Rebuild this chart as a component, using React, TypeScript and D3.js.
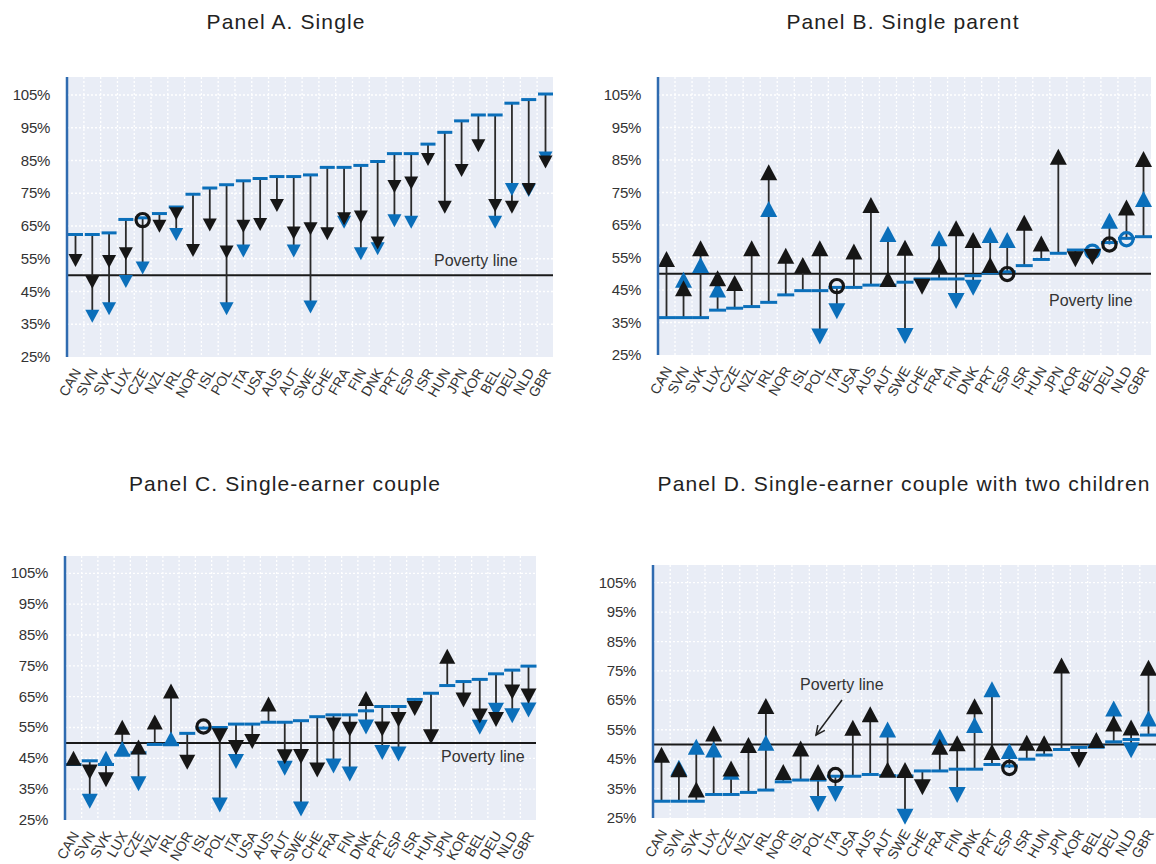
import React from "react";
import * as d3 from "d3";

const countries = ["CAN","SVN","SVK","LUX","CZE","NZL","IRL","NOR","ISL","POL","ITA","USA","AUS","AUT","SWE","CHE","FRA","FIN","DNK","PRT","ESP","ISR","HUN","JPN","KOR","BEL","DEU","NLD","GBR"];
const yTicks = [25, 35, 45, 55, 65, 75, 85, 95, 105];
const povertyLine = 50;

type V = number | null;
const _ = null;

// Panel A. Single
const dashA: number[] = [62.4,62.4,62.9,67.0,67.5,68.8,70.8,74.7,76.6,77.6,78.8,79.5,80.1,80.1,80.6,82.9,82.9,83.5,84.7,87.1,87.1,90.0,93.6,97.1,98.9,98.9,102.5,103.6,105.3];
const blackA: V[] = [55.1,48.5,54.8,57.2,66.8,65.6,69.4,58.2,66.0,57.7,65.6,66.1,71.9,63.5,64.8,63.3,67.9,68.4,60.5,77.7,78.8,86.0,71.4,82.6,90.2,71.9,71.4,76.8,85.2];
const blueA: V[] = [_,38.1,40.4,48.7,52.8,_,63.1,_,_,40.4,58.0,_,_,58.0,40.9,_,66.8,57.2,58.7,67.3,66.8,_,_,_,_,66.8,76.8,76.5,86.4];

// Panel B. Single parent
const dashB: number[] = [36.5,36.5,36.5,38.8,39.4,39.9,41.2,43.5,44.8,44.8,45.8,45.8,46.5,46.5,47.4,48.4,48.4,48.4,49.4,50.2,50.6,52.5,54.4,56.3,57.3,57.3,59.6,60.9,61.4];
const blackB: V[] = [53.7,44.7,57.0,47.8,46.3,57.0,80.4,54.7,51.9,57.0,46.2,56.0,70.3,47.6,57.2,46.8,51.9,63.2,59.6,51.9,49.9,64.9,58.5,85.2,55.3,56.0,59.0,69.6,84.5];
const blueB: V[] = [_,47.3,51.9,44.3,_,_,69.1,_,_,31.5,39.3,_,_,61.4,31.7,_,60.1,42.4,46.5,61.1,59.6,_,_,_,_,56.8,65.5,60.6,72.2];

// Panel C. Single-earner couple
const dashC: number[] = [43.0,44.2,43.0,46.0,46.8,49.5,49.5,53.1,54.8,55.0,56.1,56.1,56.7,56.7,57.2,58.5,59.1,59.1,60.4,61.8,61.8,64.1,66.1,68.6,69.9,70.6,72.4,73.6,74.9];
const blackC: V[] = [44.2,41.4,38.9,54.3,47.9,56.0,66.0,44.5,55.3,53.1,49.3,51.3,61.8,46.3,46.4,42.0,56.6,55.2,63.6,55.3,58.4,62.0,52.8,77.3,64.7,59.5,58.4,67.3,66.0];
const blueC: V[] = [_,31.9,44.2,47.4,37.6,_,50.5,_,_,30.7,44.8,_,_,42.6,29.4,_,43.3,40.7,56.0,47.7,47.2,_,_,_,_,55.9,61.4,59.6,61.5];

// Panel D. Single-earner couple with two children
const dashD: number[] = [30.7,30.7,30.7,33.0,33.0,33.7,34.5,37.3,37.9,37.9,39.2,39.2,39.8,39.4,39.3,41.0,41.0,41.6,41.6,43.2,42.7,45.0,46.4,48.3,49.0,49.4,50.9,51.7,53.2];
const blackD: V[] = [45.6,40.7,33.8,52.8,40.9,48.9,62.2,39.7,47.7,39.7,39.6,54.8,59.4,40.5,40.4,36.4,48.3,49.5,62.1,46.5,42.0,49.7,49.5,75.9,45.6,50.6,56.2,54.9,75.2];
const blueD: V[] = [_,41.2,48.3,47.4,39.8,_,49.7,_,_,30.7,34.1,_,_,54.2,26.3,_,51.7,33.7,55.7,67.9,46.9,_,_,_,_,50.4,61.3,48.9,57.9];

const BLUE = "#0b6fba";
const BLACK = "#161616";
const STEM = "#2a2a2a";
const BG = "#e9edf6";
const AXIS = "#2f6bb0";
const FONT = "'Liberation Sans', Arial, Helvetica, sans-serif";

interface PanelCfg {
  title: string;
  dash: number[];
  black: V[];
  blue: V[];
  left: number; right: number; top: number; bottom: number;
  y25: number; y105: number;
  titleX: number; titleY: number;
  triW: number; triH: number; dashW: number;
  label: { x: number; y: number };
  arrow?: { x1: number; y1: number; x2: number; y2: number };
}

const panels: PanelCfg[] = [
  { title: "Panel A. Single", dash: dashA, black: blackA, blue: blueA,
    left: 67, right: 553, top: 77, bottom: 357, y25: 357, y105: 95, titleX: 286, titleY: 29,
    triW: 14, triH: 13, dashW: 15, label: { x: 434, y: 266 } },
  { title: "Panel B. Single parent", dash: dashB, black: blackB, blue: blueB,
    left: 658, right: 1151, top: 77, bottom: 355, y25: 355, y105: 95, titleX: 903, titleY: 29,
    triW: 17, triH: 16, dashW: 17, label: { x: 1049, y: 306 } },
  { title: "Panel C. Single-earner couple", dash: dashC, black: blackC, blue: blueC,
    left: 65, right: 536, top: 556, bottom: 820, y25: 820, y105: 573.3, titleX: 285, titleY: 491,
    triW: 16, triH: 15, dashW: 16, label: { x: 441, y: 762 } },
  { title: "Panel D. Single-earner couple with two children", dash: dashD, black: blackD, blue: blueD,
    left: 653, right: 1156, top: 565, bottom: 818, y25: 818, y105: 582.7, titleX: 904, titleY: 491,
    triW: 17, triH: 16, dashW: 17, label: { x: 800, y: 690 },
    arrow: { x1: 842, y1: 700, x2: 816, y2: 735 } },
];

const THRESH = 0.75;

function triPath(cx: number, cy: number, w: number, h: number, up: boolean): string {
  const pts: [number, number][] = up
    ? [[cx, cy - (2 * h) / 3], [cx + w / 2, cy + h / 3], [cx - w / 2, cy + h / 3]]
    : [[cx, cy + (2 * h) / 3], [cx + w / 2, cy - h / 3], [cx - w / 2, cy - h / 3]];
  return (d3.line()(pts) || "") + "Z";
}

function Marker({ v, base, cx, y, color, cfg }: { v: V; base: number; cx: number; y: d3.ScaleLinear<number, number>; color: string; cfg: PanelCfg }) {
  if (v === null) return null;
  const diff = v - base;
  if (Math.abs(diff) <= THRESH) {
    return <circle cx={cx} cy={y(v)} r={6.6} fill="none" stroke={color} strokeWidth={3.2} />;
  }
  return <path d={triPath(cx, y(v), cfg.triW, cfg.triH, diff > 0)} fill={color} />;
}

function Panel({ cfg }: { cfg: PanelCfg }) {
  const x = d3.scalePoint<string>().domain(countries).range([cfg.left + 8.5, cfg.right - 7.5]);
  const y = d3.scaleLinear().domain([25, 105]).range([cfg.y25, cfg.y105]);
  const step = x.step();
  const midX = countries.slice(1).map((c) => (x(c) as number) - step / 2);
  return (
    <g>
      <text x={cfg.titleX} y={cfg.titleY} textAnchor="middle" fontSize={21} fill="#222" fontFamily={FONT} letterSpacing={1.1}>{cfg.title}</text>
      <rect x={cfg.left} y={cfg.top} width={cfg.right - cfg.left} height={cfg.bottom - cfg.top} fill={BG} />
      {midX.map((mx, i) => (
        <line key={"vx" + i} x1={mx} x2={mx} y1={cfg.top} y2={cfg.bottom} stroke="#fff" strokeWidth={1.3} strokeDasharray="2,2" />
      ))}
      {yTicks.filter((t) => t > 25).map((t) => (
        <line key={"hy" + t} x1={cfg.left} x2={cfg.right} y1={y(t)} y2={y(t)} stroke="#fff" strokeWidth={1.3} strokeDasharray="2,2" />
      ))}
      {yTicks.map((t) => (
        <text key={"yt" + t} x={cfg.left - 17} y={y(t) + 5} textAnchor="end" fontSize={15} fill="#333" fontFamily={FONT} letterSpacing={-0.3}>{t}%</text>
      ))}
      {countries.map((c) => (
        <text key={"xl" + c} transform={`translate(${(x(c) as number) + 6},${cfg.bottom + 15}) rotate(-60)`} textAnchor="end" fontSize={14} fill="#333" fontFamily={FONT}>{c}</text>
      ))}
      <line x1={cfg.left} x2={cfg.right} y1={y(povertyLine)} y2={y(povertyLine)} stroke="#1a1a1a" strokeWidth={2} />
      {countries.map((c, i) => {
        const vals = [cfg.dash[i], cfg.black[i], cfg.blue[i]].filter((v) => v !== null) as number[];
        const lo = d3.min(vals) as number;
        const hi = d3.max(vals) as number;
        const cx = x(c) as number;
        return <line key={"st" + c} x1={cx} x2={cx} y1={y(lo)} y2={y(hi)} stroke={STEM} strokeWidth={1.8} />;
      })}
      {countries.map((c, i) => {
        const cx = x(c) as number;
        return <line key={"ds" + c} x1={cx - cfg.dashW / 2} x2={cx + cfg.dashW / 2} y1={y(cfg.dash[i])} y2={y(cfg.dash[i])} stroke={BLUE} strokeWidth={3} />;
      })}
      {countries.map((c, i) => (
        <Marker key={"bl" + c} v={cfg.blue[i]} base={cfg.dash[i]} cx={x(c) as number} y={y} color={BLUE} cfg={cfg} />
      ))}
      {countries.map((c, i) => (
        <Marker key={"bk" + c} v={cfg.black[i]} base={cfg.dash[i]} cx={x(c) as number} y={y} color={BLACK} cfg={cfg} />
      ))}
      <line x1={cfg.left} x2={cfg.left} y1={cfg.top} y2={cfg.bottom} stroke={AXIS} strokeWidth={2.5} />
      <text x={cfg.label.x} y={cfg.label.y} fontSize={16} fill="#333" fontFamily={FONT}>Poverty line</text>
      {cfg.arrow && (
        <g stroke="#222" strokeWidth={1.5} fill="none">
          <line x1={cfg.arrow.x1} y1={cfg.arrow.y1} x2={cfg.arrow.x2} y2={cfg.arrow.y2} />
          <path d={(() => {
            const a = cfg.arrow!;
            const ang = Math.atan2(a.y2 - a.y1, a.x2 - a.x1);
            const L = 10, spread = 0.45;
            const p1: [number, number] = [a.x2 - L * Math.cos(ang - spread), a.y2 - L * Math.sin(ang - spread)];
            const p2: [number, number] = [a.x2 - L * Math.cos(ang + spread), a.y2 - L * Math.sin(ang + spread)];
            return d3.line()([p1, [a.x2, a.y2], p2]) || "";
          })()} />
        </g>
      )}
    </g>
  );
}

export default function App() {
  return (
    <svg width={1156} height={864} style={{ display: "block", position: "absolute", left: 0, top: 0, background: "#fff" }}>
      {panels.map((p) => (
        <Panel key={p.title} cfg={p} />
      ))}
    </svg>
  );
}
